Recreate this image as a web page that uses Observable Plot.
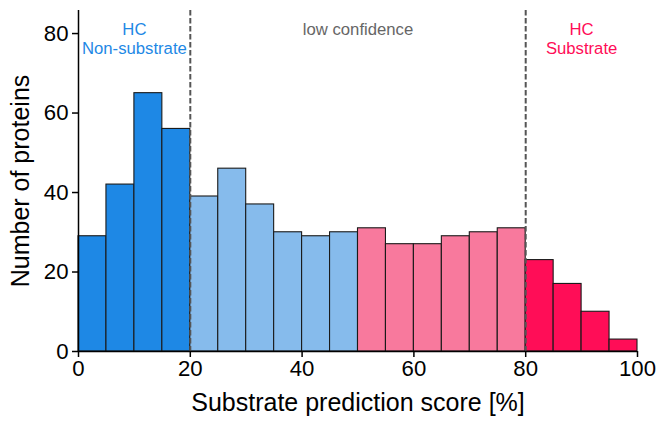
<!DOCTYPE html>
<html>
<head>
<meta charset="utf-8">
<script src="https://cdn.jsdelivr.net/npm/d3@7"></script>
<script src="https://cdn.jsdelivr.net/npm/@observablehq/plot@0.6"></script>
<style>
  html, body { margin: 0; padding: 0; background: #fff; }
  #chart { width: 666px; height: 425px; }
</style>
</head>
<body>
<div id="chart"></div>
<script>
// Bin starts (width 5) and counts
const binStarts = [0,5,10,15,20,25,30,35,40,45,50,55,60,65,70,75,80,85,90,95];
const binWidth = 5;
const counts = [29,42,65,56,39,46,37,30,29,30,31,27,27,29,30,31,23,17,10,3];

const zoneNames = ["HC non-substrate","Low-conf non-substrate","Low-conf substrate","HC substrate"];
const zoneColors = ["#1e88e5","#86bbec","#f8799d","#ff0d57"];
const zoneEdges = [20, 50, 80];

const thresholds = [20, 80];
const xTicks = [0,20,40,60,80,100];
const yTicks = [0,20,40,60,80];

const annoX = [10, 50, 90];
const annoText = ["HC\nNon-substrate", "low confidence", "HC\nSubstrate"];
const annoColors = ["#1e88e5", "#666666", "#ff0d57"];

const bars = binStarts.map((s, i) => ({
  x1: s, x2: s + binWidth, y: counts[i],
  zone: zoneNames[zoneEdges.filter(e => s >= e).length]
}));
const annos = annoX.map((x, i) => ({x, text: annoText[i], color: annoColors[i]}));

const font = "'Liberation Sans', Arial, sans-serif";

const chart = Plot.plot({
  width: 666,
  height: 425,
  marginLeft: 78,
  marginRight: 29,
  marginTop: 10,
  marginBottom: 74,
  style: {fontFamily: font, fontSize: "22px", color: "#000", background: "#fff"},
  x: {domain: [0, 100]},
  y: {domain: [0, 85.8]},
  color: {domain: zoneNames, range: zoneColors},
  marks: [
    Plot.rectY(bars, {x1: "x1", x2: "x2", y: "y", fill: "zone", stroke: "#1a1a1a", strokeWidth: 1.1}),
    Plot.ruleX(thresholds, {stroke: "#555", strokeWidth: 2, strokeDasharray: "5.5,2.5"}),
    Plot.ruleY([0], {stroke: "#000", strokeWidth: 1.5}),
    Plot.ruleX([0], {stroke: "#000", strokeWidth: 1.5}),
    Plot.axisX({ticks: xTicks, tickSize: 6, tickPadding: 3, fontSize: 22.2, label: null, strokeWidth: 1.5}),
    Plot.axisY({ticks: yTicks, tickSize: 6, tickPadding: 4, fontSize: 22.2, label: null, strokeWidth: 1.5}),
    Plot.text(["Substrate prediction score [%]"], {frameAnchor: "bottom", lineAnchor: "bottom", dy: 59, fontSize: 25, fill: "#000"}),
    Plot.text(["Number of proteins"], {frameAnchor: "left", rotate: -90, dx: -58, textAnchor: "middle", fontSize: 25, fill: "#000"}),
    Plot.text(annos, {x: "x", text: "text", fill: "color", frameAnchor: "top", lineAnchor: "top", dy: 11.5, fontSize: 16.7, lineHeight: 1.115})
  ]
});
document.getElementById("chart").appendChild(chart);
</script>
</body>
</html>
